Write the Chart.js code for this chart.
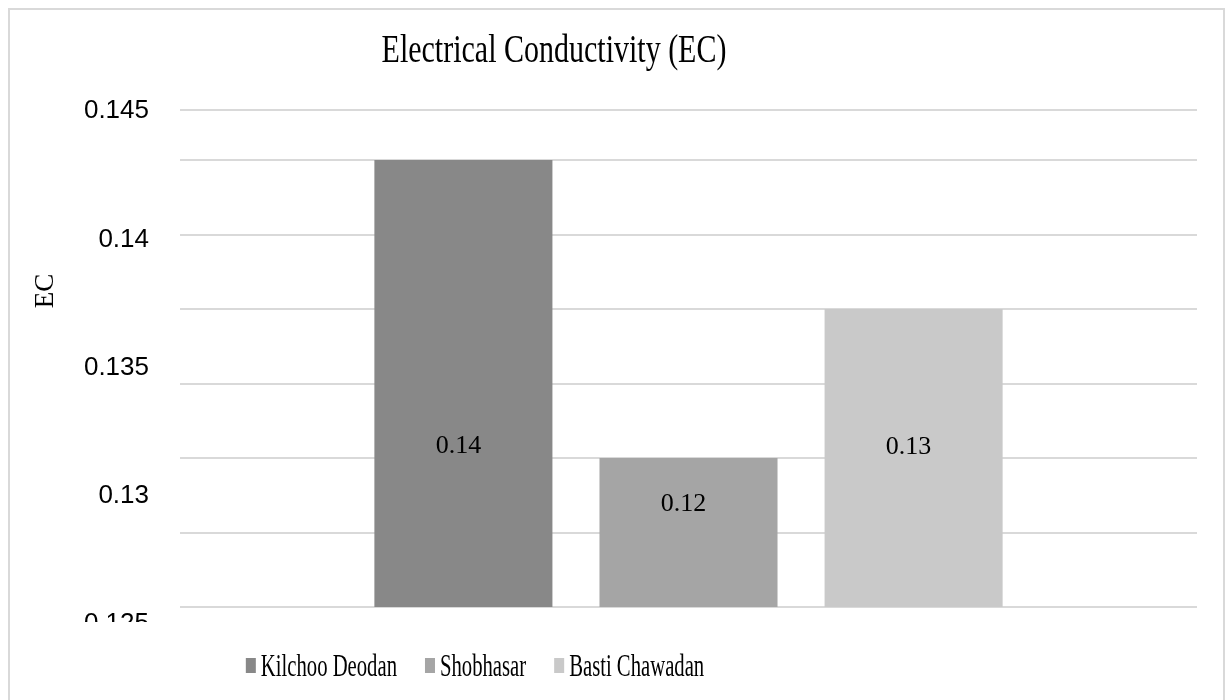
<!DOCTYPE html>
<html>
<head>
<meta charset="utf-8">
<script src="https://cdn.jsdelivr.net/npm/chart.js@4/dist/chart.umd.min.js"></script>
<style>
  html, body { margin: 0; padding: 0; background: #ffffff; }
  #wrap { width: 1231px; height: 700px; position: relative; }
</style>
</head>
<body>
<div id="wrap"><canvas id="c" width="1231" height="700"></canvas></div>
<script>
// ---- data ----
const chartTitle = 'Electrical Conductivity (EC)';
const yAxisTitle = 'EC';
const categories = ['EC'];
const seriesNames = ['Kilchoo Deodan', 'Shobhasar', 'Basti Chawadan'];
const kilchooDeodan = [0.14];
const shobhasar = [0.12];
const bastiChawadan = [0.13];
const yTickLabels = [0.125, 0.13, 0.135, 0.14, 0.145];

// ---- styles ----
const SERIF = '"Liberation Serif", "Times New Roman", serif';
const SANS = '"Liberation Sans", Arial, sans-serif';
const barColors = ['#888888', '#a5a5a5', '#c9c9c9'];
const gridStep = 0.005;
// vertical placement of each value label inside its bar (fraction of bar height from the top)
const LABEL_ANCHORS = [0.64, 0.31, 0.465];
const LABEL_DX = -5;

function drawBarLabels(chart) {
  const ctx = chart.ctx;
  ctx.save();
  ctx.font = '26px ' + SERIF;
  ctx.fillStyle = '#000000';
  ctx.textAlign = 'center';
  ctx.textBaseline = 'middle';
  const yScale = chart.scales.y;
  chart.data.datasets.forEach((ds, i) => {
    const meta = chart.getDatasetMeta(i);
    meta.data.forEach((el, j) => {
      const top = yScale.getPixelForValue(ds.data[j]);
      const base = yScale.getPixelForValue(yScale.min);
      const f = LABEL_ANCHORS[i];
      const y = top + f * (base - top);
      ctx.fillText(Number(ds.data[j]).toFixed(2), el.x + LABEL_DX, y);
    });
  });
  ctx.restore();
}

const decor = {
  id: 'decor',
  afterDraw(chart) {
    const o = { titleX: 554, titleY: 62, axisTitleX: 53, axisTitleY: 291, legendX: 475, legendY: 676 };
    const ctx = chart.ctx, ca = chart.chartArea;
    try { drawBarLabels(chart); } catch (e) { ctx.fillStyle = 'red'; ctx.font = '14px sans-serif'; ctx.fillText(String(e), 300, 300); }
    ctx.save();
    // lowest tick label is clipped in the reference
    ctx.fillStyle = '#ffffff';
    ctx.fillRect(11, ca.bottom + 15, ca.left - 14, 30);

    ctx.fillStyle = '#000000';
    // chart title (narrow, tall rendering)
    ctx.save();
    ctx.font = '30px ' + SERIF;
    ctx.textAlign = 'center';
    ctx.textBaseline = 'alphabetic';
    ctx.translate(o.titleX, o.titleY);
    ctx.scale(1, 1.3);
    ctx.fillText(chartTitle, 0, 0);
    ctx.restore();

    // y axis title
    ctx.save();
    ctx.font = '27px ' + SERIF;
    ctx.textAlign = 'center';
    ctx.textBaseline = 'alphabetic';
    ctx.translate(o.axisTitleX, o.axisTitleY);
    ctx.rotate(-Math.PI / 2);
    ctx.fillText(yAxisTitle, 0, 0);
    ctx.restore();

    // legend
    const fs = 20.7, boxW = 10, boxH = 15, gapBox = 5, gapItem = 28;
    ctx.font = fs + 'px ' + SERIF;
    const items = chart.data.datasets.map(ds => ({ text: ds.label, color: ds.backgroundColor, w: ctx.measureText(ds.label).width }));
    let total = 0;
    items.forEach((it, k) => { total += boxW + gapBox + it.w + (k < items.length - 1 ? gapItem : 0); });
    let x = o.legendX - total / 2;
    items.forEach(it => {
      ctx.fillStyle = it.color;
      ctx.fillRect(x, o.legendY - boxH - 3, boxW, boxH);
      x += boxW + gapBox;
      ctx.save();
      ctx.fillStyle = '#000000';
      ctx.textAlign = 'left';
      ctx.textBaseline = 'alphabetic';
      ctx.translate(x, o.legendY);
      ctx.scale(1, 1.5);
      ctx.fillText(it.text, 0, 0);
      ctx.restore();
      x += it.w + gapItem;
    });

    // outer frame
    ctx.strokeStyle = '#d9d9d9';
    ctx.lineWidth = 2;
    ctx.strokeRect(9, 9, chart.width - 16, chart.height + 20);
    ctx.restore();
  }
};

const gridMin = 0.11, gridMax = 0.143356;

new Chart(document.getElementById('c'), {
  type: 'bar',
  data: {
    labels: categories,
    datasets: [
      { label: seriesNames[0], data: kilchooDeodan, backgroundColor: barColors[0] },
      { label: seriesNames[1], data: shobhasar, backgroundColor: barColors[1] },
      { label: seriesNames[2], data: bastiChawadan, backgroundColor: barColors[2] }
    ]
  },
  options: {
    responsive: false,
    animation: false,
    devicePixelRatio: 1,
    layout: { padding: { left: 0, right: 34, top: 110, bottom: 93 } },
    datasets: { bar: { categoryPercentage: 0.664, barPercentage: 0.791, borderWidth: 0 } },
    plugins: {
      legend: { display: false },
      title: { display: false },
      tooltip: { enabled: false }
    },
    scales: {
      x: { display: false },
      y: {
        type: 'linear', position: 'left', weight: 0,
        min: gridMin, max: gridMax,
        ticks: { display: false },
        grid: { color: '#d9d9d9', lineWidth: 2, drawTicks: false },
        border: { display: false },
        afterBuildTicks(s) {
          const t = [];
          for (let i = 0; gridMin + i * gridStep < gridMax - 1e-9; i++) t.push({ value: gridMin + i * gridStep });
          t.push({ value: gridMax });
          s.ticks = t;
        },
        afterFit(s) { s.width = 0; }
      },
      yLab: {
        type: 'linear', position: 'left', weight: 1,
        min: 0.125674, max: 0.145043,
        grid: { display: false, drawTicks: false },
        border: { display: false },
        ticks: {
          autoSkip: false, padding: 31, color: '#000000',
          font: { family: SANS, size: 26 },
          callback: v => String(v)
        },
        afterBuildTicks(s) { s.ticks = yTickLabels.map(v => ({ value: v })); },
        afterFit(s) { s.width = 180; }
      }
    }
  },
  plugins: [decor]
});
</script>
</body>
</html>
